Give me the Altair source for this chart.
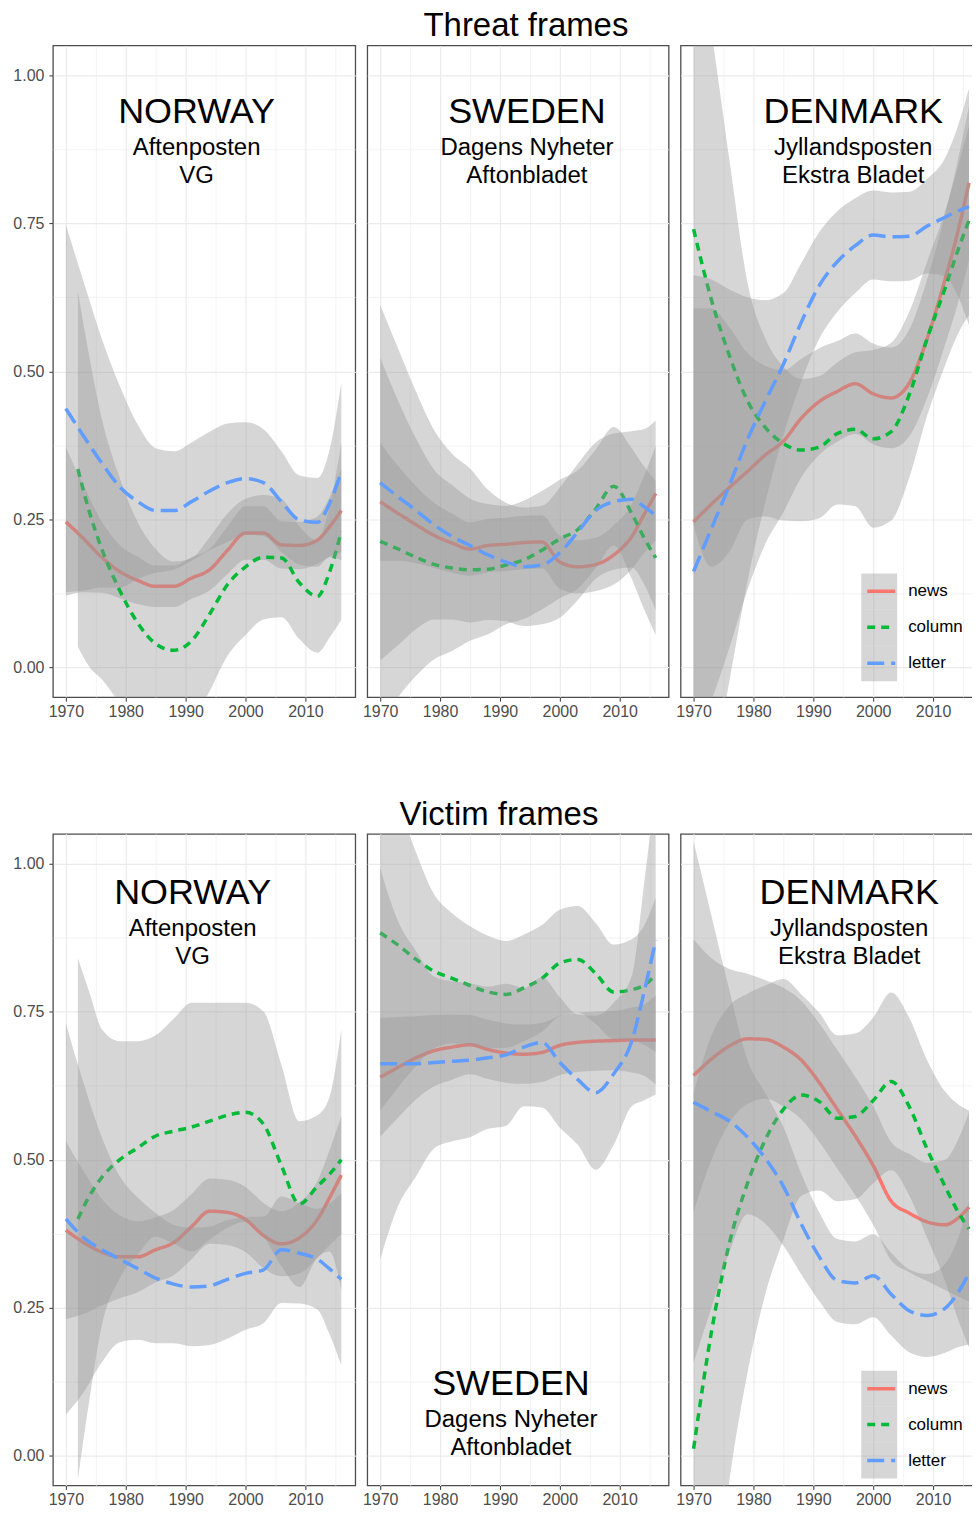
import altair as alt
import pandas as pd

FONT = "Liberation Sans"

# ---------------- data ----------------
YEARS = [1970, 1973, 1976, 1979, 1982, 1985, 1988, 1991, 1994, 1997, 2000, 2003, 2006, 2009, 2012, 2014, 2016]
YEARS_NO_COL = [1972, 1974, 1976, 1979, 1982, 1985, 1988, 1991, 1994, 1997, 2000, 2003, 2006, 2009, 2012, 2014, 2016]
TYPES = ["news", "column", "letter"]
COLORS = ["#F8766D", "#00BA38", "#619CFF"]
X_GRID = [1970, 1975, 1980, 1985, 1990, 1995, 2000, 2005, 2010, 2015]
Y_GRID = [0, 0.125, 0.25, 0.375, 0.5, 0.625, 0.75, 0.875, 1.0]

# Threat frames - Norway
TH_NO_NEWS = [0.246, 0.217, 0.186, 0.162, 0.147, 0.137, 0.137, 0.151, 0.165, 0.198, 0.227, 0.227, 0.207, 0.206, 0.215, 0.237, 0.265]
TH_NO_NEWS_SE = [0.125, 0.09, 0.06, 0.045, 0.04, 0.035, 0.035, 0.035, 0.035, 0.04, 0.045, 0.045, 0.04, 0.04, 0.04, 0.05, 0.07]
TH_NO_COL = [0.335, 0.26, 0.2, 0.13, 0.075, 0.04, 0.029, 0.045, 0.09, 0.14, 0.17, 0.186, 0.185, 0.143, 0.12, 0.16, 0.23]
TH_NO_COL_SE = [0.3, 0.26, 0.22, 0.19, 0.17, 0.16, 0.15, 0.14, 0.13, 0.12, 0.115, 0.105, 0.1, 0.095, 0.095, 0.11, 0.15]
TH_NO_LET = [0.437, 0.39, 0.345, 0.305, 0.28, 0.265, 0.265, 0.28, 0.298, 0.312, 0.319, 0.312, 0.28, 0.249, 0.245, 0.276, 0.331]
TH_NO_LET_SE = [0.31, 0.26, 0.21, 0.17, 0.13, 0.105, 0.1, 0.1, 0.1, 0.1, 0.095, 0.09, 0.085, 0.075, 0.075, 0.09, 0.15]

# Threat frames - Sweden
TH_SE_NEWS = [0.28, 0.26, 0.241, 0.223, 0.21, 0.2, 0.206, 0.208, 0.211, 0.212, 0.178, 0.17, 0.174, 0.19, 0.221, 0.257, 0.294]
TH_SE_NEWS_SE = [0.1, 0.08, 0.065, 0.055, 0.05, 0.045, 0.045, 0.045, 0.045, 0.045, 0.045, 0.045, 0.045, 0.05, 0.055, 0.065, 0.08]
TH_SE_COL = [0.213, 0.2, 0.186, 0.174, 0.168, 0.165, 0.166, 0.173, 0.182, 0.198, 0.217, 0.233, 0.268, 0.306, 0.26, 0.22, 0.185]
TH_SE_COL_SE = [0.31, 0.25, 0.2, 0.16, 0.14, 0.12, 0.11, 0.1, 0.1, 0.1, 0.1, 0.1, 0.1, 0.1, 0.11, 0.12, 0.13]
TH_SE_LET = [0.312, 0.288, 0.265, 0.241, 0.221, 0.206, 0.19, 0.178, 0.17, 0.173, 0.194, 0.229, 0.265, 0.28, 0.284, 0.272, 0.257]
TH_SE_LET_SE = [0.3, 0.25, 0.2, 0.16, 0.14, 0.13, 0.11, 0.1, 0.1, 0.1, 0.11, 0.115, 0.115, 0.115, 0.115, 0.13, 0.16]

# Threat frames - Denmark
TH_DK_NEWS = [0.246, 0.276, 0.304, 0.331, 0.359, 0.382, 0.421, 0.449, 0.466, 0.479, 0.462, 0.455, 0.48, 0.555, 0.655, 0.73, 0.818]
TH_DK_NEWS_SE = [0.36, 0.33, 0.27, 0.2, 0.15, 0.12, 0.1, 0.09, 0.085, 0.085, 0.085, 0.085, 0.09, 0.1, 0.11, 0.12, 0.13]
TH_DK_COL = [0.74, 0.62, 0.526, 0.45, 0.405, 0.378, 0.367, 0.372, 0.395, 0.402, 0.386, 0.398, 0.46, 0.555, 0.64, 0.7, 0.755]
TH_DK_COL_SE = [0.5, 0.45, 0.33, 0.2, 0.15, 0.13, 0.12, 0.12, 0.12, 0.13, 0.15, 0.15, 0.14, 0.13, 0.13, 0.14, 0.16]
TH_DK_LET = [0.162, 0.235, 0.308, 0.385, 0.45, 0.512, 0.583, 0.645, 0.685, 0.712, 0.73, 0.727, 0.728, 0.745, 0.76, 0.77, 0.778]
TH_DK_LET_SE = [0.5, 0.42, 0.33, 0.24, 0.17, 0.12, 0.1, 0.09, 0.085, 0.08, 0.075, 0.075, 0.075, 0.08, 0.1, 0.14, 0.2]

# Victim frames - Norway
VI_NO_NEWS = [0.381, 0.36, 0.344, 0.336, 0.336, 0.348, 0.36, 0.387, 0.413, 0.411, 0.399, 0.372, 0.358, 0.368, 0.399, 0.435, 0.474]
VI_NO_NEWS_SE = [0.15, 0.12, 0.09, 0.07, 0.06, 0.055, 0.055, 0.055, 0.055, 0.055, 0.055, 0.055, 0.055, 0.06, 0.065, 0.08, 0.1]
VI_NO_COL = [0.4, 0.44, 0.47, 0.5, 0.52, 0.54, 0.548, 0.555, 0.565, 0.575, 0.58, 0.56, 0.49, 0.425, 0.455, 0.475, 0.5]
VI_NO_COL_SE = [0.44, 0.34, 0.25, 0.2, 0.18, 0.17, 0.19, 0.21, 0.2, 0.19, 0.185, 0.19, 0.17, 0.14, 0.12, 0.13, 0.22]
VI_NO_LET = [0.4, 0.368, 0.348, 0.332, 0.316, 0.3, 0.29, 0.285, 0.287, 0.298, 0.308, 0.314, 0.348, 0.342, 0.332, 0.316, 0.298]
VI_NO_LET_SE = [0.33, 0.26, 0.19, 0.14, 0.12, 0.11, 0.1, 0.1, 0.1, 0.1, 0.095, 0.09, 0.09, 0.085, 0.085, 0.11, 0.145]

# Victim frames - Sweden
VI_SE_NEWS = [0.639, 0.656, 0.672, 0.684, 0.69, 0.694, 0.686, 0.68, 0.678, 0.681, 0.693, 0.698, 0.7, 0.701, 0.702, 0.702, 0.702]
VI_SE_NEWS_SE = [0.1, 0.085, 0.07, 0.06, 0.055, 0.05, 0.05, 0.05, 0.05, 0.05, 0.05, 0.05, 0.05, 0.05, 0.055, 0.06, 0.075]
VI_SE_COL = [0.883, 0.862, 0.838, 0.818, 0.806, 0.794, 0.783, 0.779, 0.79, 0.806, 0.832, 0.838, 0.814, 0.783, 0.787, 0.794, 0.812]
VI_SE_COL_SE = [0.3, 0.24, 0.18, 0.13, 0.11, 0.1, 0.095, 0.09, 0.09, 0.09, 0.09, 0.09, 0.085, 0.08, 0.085, 0.1, 0.13]
VI_SE_LET = [0.662, 0.662, 0.662, 0.664, 0.666, 0.668, 0.672, 0.677, 0.69, 0.698, 0.664, 0.635, 0.613, 0.645, 0.7, 0.78, 0.87]
VI_SE_LET_SE = [0.33, 0.24, 0.19, 0.145, 0.135, 0.13, 0.12, 0.12, 0.1, 0.11, 0.11, 0.11, 0.13, 0.12, 0.11, 0.18, 0.26]

# Victim frames - Denmark
VI_DK_NEWS = [0.642, 0.67, 0.692, 0.704, 0.703, 0.69, 0.668, 0.63, 0.585, 0.54, 0.49, 0.43, 0.41, 0.395, 0.39, 0.4, 0.42]
VI_DK_NEWS_SE = [0.23, 0.17, 0.13, 0.11, 0.1, 0.1, 0.1, 0.1, 0.1, 0.1, 0.1, 0.1, 0.1, 0.1, 0.11, 0.13, 0.16]
VI_DK_COL = [0.012, 0.21, 0.36, 0.46, 0.534, 0.585, 0.609, 0.598, 0.57, 0.573, 0.6, 0.632, 0.59, 0.518, 0.455, 0.415, 0.383]
VI_DK_COL_SE = [0.6, 0.5, 0.4, 0.32, 0.26, 0.22, 0.17, 0.15, 0.14, 0.14, 0.14, 0.15, 0.15, 0.15, 0.16, 0.18, 0.2]
VI_DK_LET = [0.597, 0.581, 0.565, 0.538, 0.502, 0.455, 0.391, 0.336, 0.296, 0.292, 0.304, 0.273, 0.245, 0.237, 0.249, 0.273, 0.308]
VI_DK_LET_SE = [0.44, 0.33, 0.22, 0.13, 0.11, 0.1, 0.085, 0.075, 0.07, 0.07, 0.07, 0.07, 0.07, 0.07, 0.075, 0.09, 0.12]

PANELS = {
    ("Threat", "NORWAY"): {"news": (YEARS, TH_NO_NEWS, TH_NO_NEWS_SE), "column": (YEARS_NO_COL, TH_NO_COL, TH_NO_COL_SE), "letter": (YEARS, TH_NO_LET, TH_NO_LET_SE)},
    ("Threat", "SWEDEN"): {"news": (YEARS, TH_SE_NEWS, TH_SE_NEWS_SE), "column": (YEARS, TH_SE_COL, TH_SE_COL_SE), "letter": (YEARS, TH_SE_LET, TH_SE_LET_SE)},
    ("Threat", "DENMARK"): {"news": (YEARS, TH_DK_NEWS, TH_DK_NEWS_SE), "column": (YEARS, TH_DK_COL, TH_DK_COL_SE), "letter": (YEARS, TH_DK_LET, TH_DK_LET_SE)},
    ("Victim", "NORWAY"): {"news": (YEARS, VI_NO_NEWS, VI_NO_NEWS_SE), "column": (YEARS_NO_COL, VI_NO_COL, VI_NO_COL_SE), "letter": (YEARS, VI_NO_LET, VI_NO_LET_SE)},
    ("Victim", "SWEDEN"): {"news": (YEARS, VI_SE_NEWS, VI_SE_NEWS_SE), "column": (YEARS, VI_SE_COL, VI_SE_COL_SE), "letter": (YEARS, VI_SE_LET, VI_SE_LET_SE)},
    ("Victim", "DENMARK"): {"news": (YEARS, VI_DK_NEWS, VI_DK_NEWS_SE), "column": (YEARS, VI_DK_COL, VI_DK_COL_SE), "letter": (YEARS, VI_DK_LET, VI_DK_LET_SE)},
}

LABELS = {
    "NORWAY": ["NORWAY", "Aftenposten", "VG"],
    "SWEDEN": ["SWEDEN", "Dagens Nyheter", "Aftonbladet"],
    "DENMARK": ["DENMARK", "Jyllandsposten", "Ekstra Bladet"],
}
ROW_TITLES = {"Threat": "Threat frames", "Victim": "Victim frames"}

# ---------------- layout / style ----------------
PX_PER_YEAR = 6.0
X0 = 1970 - 13 / PX_PER_YEAR
PANEL_H = 653
WIDTHS = {"NORWAY": 303, "SWEDEN": 302, "DENMARK": 303}
TEXT_POS = {
    ("Threat", "NORWAY"): (144, 78), ("Threat", "SWEDEN"): (160, 78), ("Threat", "DENMARK"): (173, 78),
    ("Victim", "NORWAY"): (140, 70), ("Victim", "SWEDEN"): (144, 562), ("Victim", "DENMARK"): (169, 70),
}
LEGEND_Y = {"Threat": 529, "Victim": 538}
TITLE_DX = {"Threat": 8, "Victim": -19}
DASHES = [[1, 0], [8, 6], [17, 7]]
BAND_KEYS = [t + " band" for t in TYPES]

yscale = alt.Scale(domain=[-0.05, 1.05], nice=False, zero=False)
x_minor = "datum.value % 10 !== 0"
y_minor = "datum.value % 0.25 !== 0"

xaxis = alt.Axis(
    values=X_GRID, format="d", labelExpr="datum.value % 10 === 0 ? datum.label : ''",
    labelOverlap=False, labelFlush=False, labelPadding=2, tickSize=4,
    tickColor={"condition": {"test": x_minor, "value": "transparent"}, "value": "#333333"},
    gridWidth={"condition": {"test": x_minor, "value": 0.6}, "value": 1.2},
)
yaxis_main = alt.Axis(
    values=Y_GRID, labelExpr="datum.value % 0.25 === 0 ? format(datum.value, '.2f') : ''",
    labelOverlap=False, labelFlush=False, labelPadding=5, tickSize=4,
    tickColor={"condition": {"test": y_minor, "value": "transparent"}, "value": "#333333"},
    gridWidth={"condition": {"test": y_minor, "value": 0.6}, "value": 1.2},
)
yaxis_plain = alt.Axis(
    values=Y_GRID, labels=False, ticks=False, domain=False,
    gridWidth={"condition": {"test": y_minor, "value": 0.6}, "value": 1.2},
)


def text_layer(txt, x, y, size):
    return alt.Chart(pd.DataFrame({"label": [txt]})).mark_text(
        font=FONT, fontSize=size, color="black", align="center", baseline="alphabetic"
    ).encode(text="label:N", x=alt.value(x), y=alt.value(y))


def panel(frame, country):
    width = WIDTHS[country]
    series = PANELS[(frame, country)]
    show_leg = country == "DENMARK"
    if show_leg:
        ly = LEGEND_Y[frame]
        fill_leg = alt.Legend(orient="none", legendX=181, legendY=ly, title=None, symbolType="square",
                              symbolSize=1296, symbolOpacity=0.4, symbolStrokeWidth=0, labelExpr="''",
                              rowPadding=0, labelFontSize=1)
        line_leg = alt.Legend(orient="none", legendX=185, legendY=ly + 2, title=None, symbolType="stroke",
                              symbolSize=784, symbolStrokeWidth=3.5, labelFontSize=17, labelOffset=11,
                              rowPadding=12, labelColor="black", labelFont=FONT)
    else:
        fill_leg = None
        line_leg = None
    xenc = alt.X("year:Q", scale=alt.Scale(domain=[X0, X0 + width / PX_PER_YEAR], nice=False, zero=False),
                 axis=xaxis, title=None)
    yax = yaxis_main if country == "NORWAY" else yaxis_plain
    layers = []
    for t, bk in zip(TYPES, BAND_KEYS):
        yrs, mid, se = series[t]
        df = pd.DataFrame({
            "type": t, "band": bk, "year": yrs, "mid": mid,
            "lo": [m - s for m, s in zip(mid, se)], "hi": [m + s for m, s in zip(mid, se)],
        })
        band = alt.Chart(df).mark_area(interpolate="monotone", clip=True, opacity=0.4).encode(
            x=xenc,
            y=alt.Y("lo:Q", scale=yscale, axis=yax, title=None),
            y2="hi:Q",
            fill=alt.Fill("band:N", scale=alt.Scale(domain=BAND_KEYS, range=["#999999"] * 3), legend=fill_leg),
        )
        line = alt.Chart(df).mark_line(interpolate="monotone", clip=True, strokeWidth=3.5).encode(
            x=xenc,
            y=alt.Y("mid:Q", scale=yscale, axis=yax, title=None),
            color=alt.Color("type:N", scale=alt.Scale(domain=TYPES, range=COLORS), legend=line_leg),
            strokeDash=alt.StrokeDash("type:N", scale=alt.Scale(domain=TYPES, range=DASHES), legend=line_leg),
        )
        layers += [band, line]
    tx, ty = TEXT_POS[(frame, country)]
    l0, l1, l2 = LABELS[country]
    layers += [text_layer(l0, tx, ty, 36), text_layer(l1, tx, ty + 32, 24), text_layer(l2, tx, ty + 60, 24)]
    ch = alt.layer(*layers).properties(width=width, height=PANEL_H)
    if country == "SWEDEN":
        ch = ch.properties(title=alt.TitleParams(ROW_TITLES[frame], fontSize=33, font=FONT, fontWeight="normal",
                                                 color="black", anchor="middle", dx=TITLE_DX[frame], offset=2))
    return ch.resolve_scale(fill="shared", color="shared", strokeDash="shared")


def row(frame):
    return alt.hconcat(
        panel(frame, "NORWAY"), panel(frame, "SWEDEN"), panel(frame, "DENMARK"),
        spacing=12, bounds="flush",
    ).resolve_scale(x="independent", y="independent", fill="independent", color="independent",
                    strokeDash="independent").resolve_legend(fill="independent", color="independent",
                                                               strokeDash="independent")


chart = alt.vconcat(row("Threat"), row("Victim"), spacing=78).resolve_scale(
    x="independent", y="independent", fill="independent", color="independent", strokeDash="independent"
).resolve_legend(fill="independent", color="independent", strokeDash="independent").properties(
    padding={"left": 4, "top": 0, "right": -12, "bottom": -3}
).configure(font=FONT).configure_view(stroke="#4d4d4d", strokeWidth=1.3).configure_axis(
    labelFont=FONT, labelFontSize=16, labelColor="#4d4d4d", gridColor="#EBEBEB", domain=False
)

chart.save("out.html", embed_options={"renderer": "svg", "actions": False})
